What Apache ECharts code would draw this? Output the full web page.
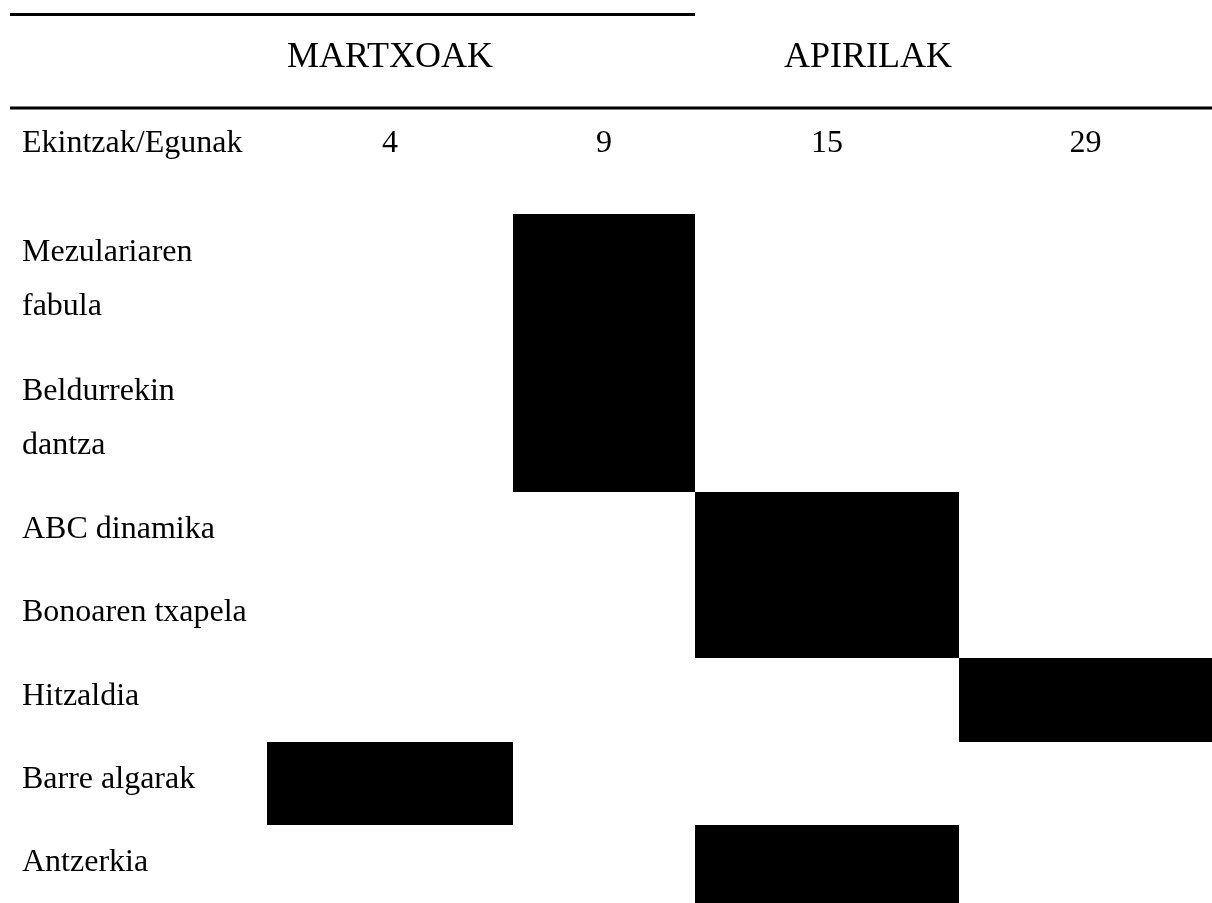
<!DOCTYPE html>
<html>
<head>
<meta charset="utf-8">
<title>Ekintzak / Egunak</title>
<script src="https://cdn.jsdelivr.net/npm/echarts@6/dist/echarts.min.js"></script>
<style>
    html, body {
        margin: 0;
        padding: 0;
        background-color: #ffffff;
    }

    #ganttChart {
        width: 1212px;
        height: 903px;
    }
</style>
</head>
<body>
<div id="ganttChart"></div>
<script>
    // datuak
    var months = ['MARTXOAK', 'APIRILAK'];
    var headerLabel = 'Ekintzak/Egunak';
    var days = ['4', '9', '15', '29'];
    var activities = ['Mezulariaren fabula', 'Beldurrekin dantza', 'ABC dinamika', 'Bonoaren txapela',
        'Hitzaldia', 'Barre algarak', 'Antzerkia'];
    var activityDay = ['9', '9', '15', '15', '29', '4', '15'];

    // taularen neurriak (zutabe zabalerak eta errenkada altuerak)
    var colWidths = [246, 182, 264, 253];
    var rowHeights = [139, 139, 83, 83, 84, 83, 83];

    function edges(sizes) {
        var out = [0];
        sizes.forEach(function (s, i) {
            out.push(out[i] + s);
        });
        return out;
    }

    var colEdges = edges(colWidths);
    var rowEdges = edges(rowHeights);
    var totalW = colEdges[colEdges.length - 1];
    var gridTop = 214;
    // azken errenkada orriaren behealdean mozten da
    var visibleH = 903 - gridTop;

    var font = '"Liberation Serif", "Times New Roman", serif';

    var blockData = activities.map(function (name, i) {
        return {name: name, value: [days.indexOf(activityDay[i]), i]};
    });
    var labelData = activities.map(function (name, i) {
        return {name: name, value: [0, i]};
    });
    var dayData = days.map(function (d, j) {
        return {name: d, value: [j, 0]};
    });

    var chart = echarts.init(document.getElementById('ganttChart'));
    var option = {
        backgroundColor: '#ffffff',
        animation: false,
        grid: {
            left: 267,
            top: gridTop,
            width: totalW,
            height: visibleH
        },
        xAxis: {
            type: 'value',
            min: 0,
            max: totalW,
            show: false
        },
        yAxis: {
            type: 'value',
            inverse: true,
            min: 0,
            max: visibleH,
            show: false
        },
        graphic: [
            {
                type: 'line',
                shape: {x1: 10, y1: 14.5, x2: 695, y2: 14.5},
                style: {stroke: '#000', lineWidth: 3}
            },
            {
                type: 'line',
                shape: {x1: 10, y1: 108, x2: 1212, y2: 108},
                style: {stroke: '#000', lineWidth: 3}
            },
            {
                type: 'text',
                x: 390,
                y: 58,
                style: {
                    text: months[0], fill: '#000', fontFamily: font, fontSize: 36,
                    align: 'center', verticalAlign: 'middle'
                }
            },
            {
                type: 'text',
                x: 868,
                y: 58,
                style: {
                    text: months[1], fill: '#000', fontFamily: font, fontSize: 36,
                    align: 'center', verticalAlign: 'middle'
                }
            },
            {
                type: 'text',
                x: 22,
                y: 144,
                style: {
                    text: headerLabel, fill: '#000', fontFamily: font, fontSize: 32,
                    align: 'left', verticalAlign: 'middle'
                }
            }
        ],
        series: [
            {
                // ekintza blokeak
                type: 'custom',
                clip: false,
                data: blockData,
                renderItem: function (params, api) {
                    var d = api.value(0);
                    var r = api.value(1);
                    var p0 = api.coord([colEdges[d], rowEdges[r]]);
                    var p1 = api.coord([colEdges[d + 1], rowEdges[r + 1]]);
                    return {
                        type: 'rect',
                        shape: {x: p0[0], y: p0[1], width: p1[0] - p0[0], height: p1[1] - p0[1]},
                        style: {fill: '#000000'}
                    };
                }
            },
            {
                // ekintzen izenak
                type: 'custom',
                clip: false,
                data: labelData,
                renderItem: function (params, api) {
                    var r = api.value(1);
                    var y = api.coord([0, (rowEdges[r] + rowEdges[r + 1]) / 2])[1] - 3.5;
                    return {
                        type: 'text',
                        x: 22,
                        y: y,
                        style: {
                            text: activities[r], fill: '#000', fontFamily: font, fontSize: 32,
                            align: 'left', verticalAlign: 'middle',
                            width: 234, overflow: 'break', lineHeight: 54
                        }
                    };
                }
            },
            {
                // egunak
                type: 'custom',
                clip: false,
                data: dayData,
                renderItem: function (params, api) {
                    var j = api.value(0);
                    var x = api.coord([(colEdges[j] + colEdges[j + 1]) / 2, 0])[0];
                    return {
                        type: 'text',
                        x: x,
                        y: 144,
                        style: {
                            text: days[j], fill: '#000', fontFamily: font, fontSize: 32,
                            align: 'center', verticalAlign: 'middle'
                        }
                    };
                }
            }
        ]
    };
    chart.setOption(option);
</script>
</body>
</html>
